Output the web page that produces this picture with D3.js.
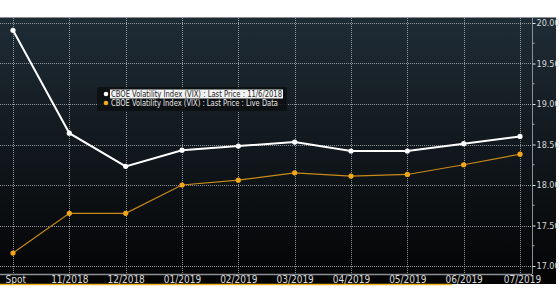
<!DOCTYPE html>
<meta charset="utf-8">
<style>
body { margin: 0; background: #fff; }
text { font-family: "Liberation Sans Narrow", "DejaVu Sans Condensed", sans-serif; }
</style>

<svg width="560" height="307"></svg>

<script src="https://d3js.org/d3.v7.min.js"></script>
<script>

var categorias = ["Spot", "11/2018", "12/2018", "01/2019", "02/2019", "03/2019", "04/2019", "05/2019", "06/2019", "07/2019"];
var vixFechamento = [19.91, 18.64, 18.23, 18.43, 18.48, 18.53, 18.42, 18.42, 18.51, 18.60];
var vixAoVivo = [17.16, 17.65, 17.65, 18.00, 18.06, 18.15, 18.11, 18.13, 18.25, 18.38];
var ticksY = [17.00, 17.50, 18.00, 18.50, 19.00, 19.50, 20.00];
var legendas = ["CBOE Volatility Index (VIX) : Last Price : 11/6/2018",
                "CBOE Volatility Index (VIX) : Last Price : Live Data"];

var svg = d3.select("svg");

// fundo com degrade
var defs = svg.append("defs");
var grad = defs.append("linearGradient")
    .attr("id", "fundo").attr("x1", 0).attr("y1", 0).attr("x2", 0).attr("y2", 1);
grad.append("stop").attr("offset", "0%").attr("stop-color", "#1f2c36");
grad.append("stop").attr("offset", "100%").attr("stop-color", "#030303");

svg.append("rect")
    .attr("x", 0).attr("y", 17).attr("width", 556).attr("height", 267)
    .attr("fill", "url(#fundo)");
svg.append("line")
    .attr("x1", 0).attr("x2", 556).attr("y1", 17.5).attr("y2", 17.5)
    .attr("stroke", "#8a9096");

var x = d3.scalePoint()
    .domain(categorias)
    .range([13, 520]);

var y = d3.scaleLinear()
    .domain([17, 20])
    .range([266, 23]);

// grade
svg.append("g")
  .selectAll("line")
  .data(ticksY)
  .enter().append("line")
    .attr("x1", 0).attr("x2", 532)
    .attr("y1", d => Math.round(y(d)) + 0.5).attr("y2", d => Math.round(y(d)) + 0.5)
    .attr("stroke", "#b0b4b8").attr("stroke-dasharray", "1,1").attr("stroke-opacity", 0.8);

svg.append("g")
  .selectAll("line")
  .data(categorias)
  .enter().append("line")
    .attr("x1", d => Math.round(x(d)) + 0.5).attr("x2", d => Math.round(x(d)) + 0.5)
    .attr("y1", 18).attr("y2", 274)
    .attr("stroke", "#b0b4b8").attr("stroke-dasharray", "1,1").attr("stroke-opacity", 0.8);

// eixo direito
var eixoY = d3.axisRight(y)
    .tickValues(ticksY)
    .tickSize(3)
    .tickPadding(1)
    .tickFormat(d3.format(".2f"));

var gy = svg.append("g")
    .attr("transform", "translate(532.5,0)")
    .call(eixoY);
gy.select(".domain").attr("stroke", "#8a9096").attr("d", "M0,18V274");
gy.selectAll(".tick line").attr("stroke", "#e0e0e0");
gy.selectAll(".tick text").attr("fill", "#d8d8d8").attr("font-size", 9);

// ticks menores
svg.append("g")
  .selectAll("line")
  .data(d3.range(17.25, 20, 0.5))
  .enter().append("line")
    .attr("x1", 532.5).attr("x2", 534.5)
    .attr("y1", d => y(d)).attr("y2", d => y(d))
    .attr("stroke", "#aaa");

// eixo inferior
svg.append("line")
    .attr("x1", 0).attr("x2", 532).attr("y1", 274.5).attr("y2", 274.5)
    .attr("stroke", "#8a9096").attr("stroke-width", 1.5);

var eixoX = d3.axisBottom(x).tickSize(0).tickPadding(2);
var gx = svg.append("g")
    .attr("transform", "translate(0,274)")
    .call(eixoX);
gx.select(".domain").remove();
gx.selectAll(".tick text").attr("fill", "#d8d8d8").attr("font-size", 10);
gx.selectAll(".tick text").filter(d => d === "Spot").attr("text-anchor", "start").attr("x", 5 - x("Spot"));
gx.selectAll(".tick text").filter(d => d === "07/2019").attr("x", 2);

svg.append("line")
    .attr("x1", 0).attr("x2", 452).attr("y1", 284.5).attr("y2", 284.5)
    .attr("stroke", "#f0b429").attr("stroke-width", 1.5);

// linhas
var linha = d3.line()
    .x((d, i) => x(categorias[i]))
    .y(d => y(d));

svg.append("path")
    .datum(vixAoVivo)
    .attr("fill", "none")
    .attr("stroke", "#c98a1a")
    .attr("stroke-width", 1.2)
    .attr("d", linha);

svg.append("g")
  .selectAll("circle")
  .data(vixAoVivo)
  .enter().append("circle")
    .attr("cx", (d, i) => x(categorias[i]))
    .attr("cy", d => y(d))
    .attr("r", 2.6)
    .attr("fill", "#f3a81c");

svg.append("path")
    .datum(vixFechamento)
    .attr("fill", "none")
    .attr("stroke", "#ffffff")
    .attr("stroke-width", 2)
    .attr("d", linha);

svg.append("g")
  .selectAll("circle")
  .data(vixFechamento)
  .enter().append("circle")
    .attr("cx", (d, i) => x(categorias[i]))
    .attr("cy", d => y(d))
    .attr("r", 2.6)
    .attr("fill", "#ffffff");

// legenda
var leg = svg.append("g").attr("transform", "translate(97,87)");
leg.append("rect")
    .attr("width", 190).attr("height", 24)
    .attr("fill", "#0c0f12").attr("fill-opacity", 0.85);
leg.append("rect")
    .attr("x", 13).attr("y", 2.5).attr("width", 173).attr("height", 9)
    .attr("fill", "#f2f2f2");

var coresLeg = ["#ffffff", "#f3a81c"];
var larguras = [171, 167];
var itens = leg.selectAll(".item")
    .data(legendas)
  .enter().append("g")
    .attr("class", "item")
    .attr("transform", (d, i) => "translate(0," + (7 + i * 9) + ")");
itens.append("circle")
    .attr("cx", 9).attr("cy", 0).attr("r", 2.3)
    .attr("fill", (d, i) => coresLeg[i]);
itens.append("text")
    .attr("x", 14).attr("y", 3)
    .attr("font-size", 8)
    .attr("textLength", (d, i) => larguras[i])
    .attr("lengthAdjust", "spacingAndGlyphs")
    .attr("fill", (d, i) => i === 0 ? "#222" : "#e6e6e6")
    .text(d => d);

</script>
